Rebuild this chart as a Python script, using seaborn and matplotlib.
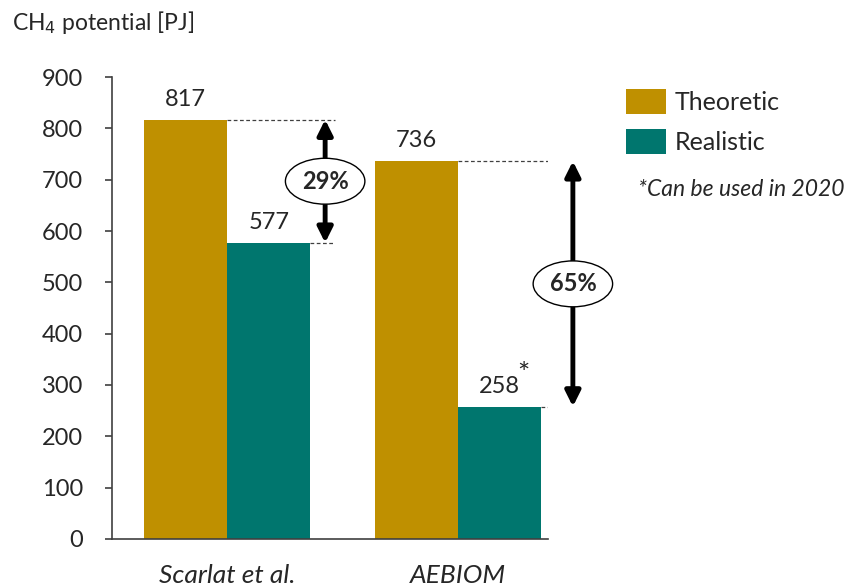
import matplotlib
matplotlib.use("Agg")
import matplotlib.pyplot as plt
from matplotlib.patches import Patch
import seaborn as sns
import pandas as pd

# Data
sources = ["Scarlat et al.", "AEBIOM"]
theoretic = [817, 736]
realistic = [577, 258]
reduction_pct = ["29%", "65%"]
starred = [False, True]
series_names = ["Theoretic", "Realistic"]
colors = ["#BF9000", "#00766E"]

df = pd.DataFrame({
    "source": sources * 2,
    "potential": theoretic + realistic,
    "kind": [series_names[0]] * 2 + [series_names[1]] * 2,
})

sns.set_style("white")
plt.rcParams["font.family"] = ["Lato", "DejaVu Sans"]

fig = plt.figure(figsize=(8.53, 5.87), dpi=100)
ax = fig.add_axes([0.1313, 0.0818, 0.5111, 0.787])

sns.barplot(data=df, x="source", y="potential", hue="kind",
            palette=colors, width=0.72, gap=0, saturation=1,
            edgecolor="none", ax=ax, legend=False)

ax.set_ylim(0, 900)
ax.set_xlim(-0.5, 1.39)
ax.set_yticks(range(0, 901, 100))
ax.set_xlabel("")
ax.set_ylabel("")
for s in ["top", "right"]:
    ax.spines[s].set_visible(False)
for s in ["left", "bottom"]:
    ax.spines[s].set_color("#404040")
    ax.spines[s].set_linewidth(1.2)
ax.tick_params(axis="y", direction="out", length=5, width=1.2, color="#404040",
               labelsize=17, pad=16, left=True)
ax.tick_params(axis="x", length=0, labelsize=19, pad=18)
for lab in ax.get_xticklabels():
    lab.set_fontstyle("italic")

# Value labels (starred values get a raised asterisk)
half = 0.36
for i, cont in enumerate(ax.containers):
    vals = theoretic if i == 0 else realistic
    ax.bar_label(cont, labels=[str(v) for v in vals], padding=7, fontsize=17)
    if i == 1:
        for j, v in enumerate(vals):
            if starred[j]:
                ax.annotate("*", xy=(j + half / 2, v), xytext=(13, 13),
                            textcoords="offset points", ha="left", va="bottom",
                            fontsize=21)

# Reduction arrows with dashed guide lines
arrow_x = [0.424, 1.498]
dash_end = [0.468, 1.528]
for i in range(len(sources)):
    top, bot = theoretic[i], realistic[i]
    ax.plot([i, dash_end[i]], [top, top], ls=(0, (3, 2)), color="#404040", lw=0.9)
    ax.plot([i + half, dash_end[i]], [bot, bot], ls=(0, (3, 2)), color="#404040", lw=0.9)
    ax.annotate("", xy=(arrow_x[i], bot), xytext=(arrow_x[i], top),
                arrowprops=dict(arrowstyle="<|-|>,head_length=0.9,head_width=0.45",
                                color="black", lw=3.5, shrinkA=0, shrinkB=0),
                annotation_clip=False)
    ax.text(arrow_x[i], (top + bot) / 2, reduction_pct[i], ha="center", va="center",
            fontsize=17, fontweight="bold",
            bbox=dict(boxstyle="ellipse,pad=0.2", fc="white", ec="black", lw=1.0),
            zorder=5, clip_on=False)

# Title above the axis
fig.text(12 / 853, 1 - 22 / 587, "CH$_4$ potential [PJ]", fontsize=16.5,
         ha="left", va="center")

# Legend
handles = [Patch(facecolor=c, edgecolor="none") for c in colors]
fig.legend(handles, series_names, loc="upper left",
           bbox_to_anchor=(626 / 853, 1 - 89 / 587), frameon=False, fontsize=18,
           handlelength=1.6, handleheight=1.16, handletextpad=0.36,
           labelspacing=0.62, borderaxespad=0, borderpad=0)

fig.text(638 / 853, 1 - 190 / 587, "*Can be used in 2020", fontsize=16.5,
         fontstyle="italic", ha="left", va="center")

fig.savefig("out.png", dpi=100)
